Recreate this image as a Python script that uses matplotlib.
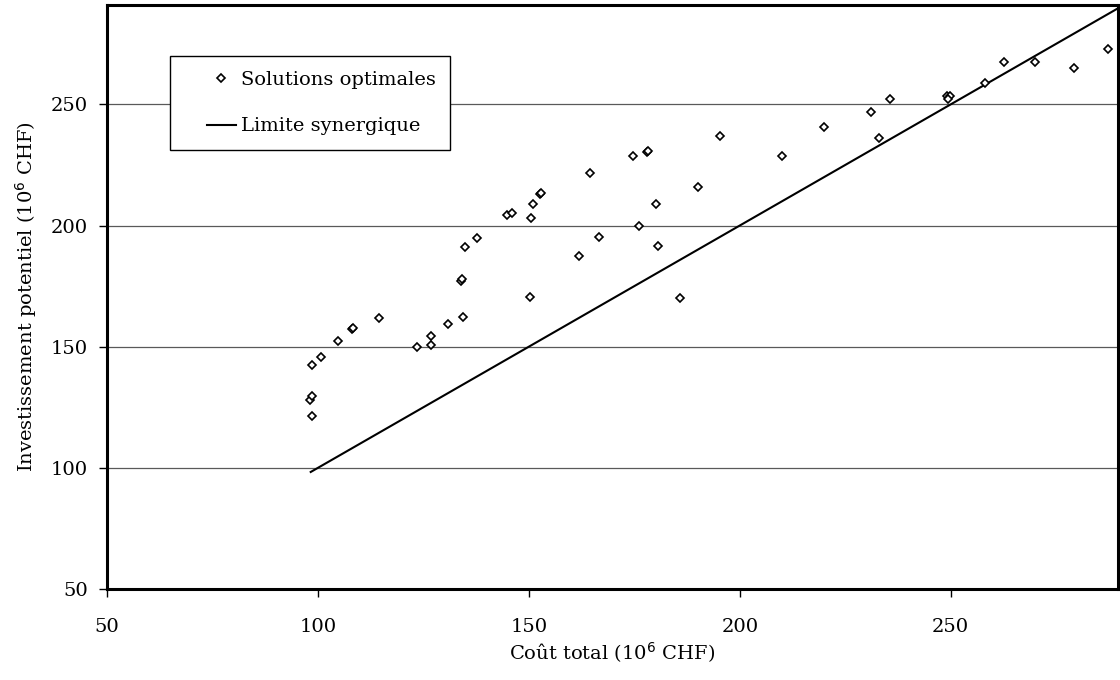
import matplotlib
matplotlib.use("Agg")
import matplotlib.pyplot as plt
from matplotlib.legend_handler import HandlerLine2D

# Solutions optimales (coût total, investissement potentiel), 10^6 CHF
cout = [98.6, 98.1, 98.7, 98.7, 100.7, 104.8, 108.0, 108.3, 114.4, 123.6,
        126.7, 126.8, 130.8, 134.4, 134.0, 134.2, 134.8, 137.7, 144.9, 146.0,
        150.3, 150.5, 150.9, 152.6, 152.9, 162.0, 164.4, 166.7, 174.7, 176.0,
        178.0, 178.3, 180.2, 180.5, 185.9, 190.2, 195.4, 209.9, 220.0, 231.2,
        232.9, 235.5, 249.1, 249.8, 249.3, 258.1, 262.6, 270.0, 279.2, 287.2]
invest = [121.5, 127.8, 129.6, 142.4, 145.6, 152.5, 157.2, 157.6, 162.0, 150.0,
          150.7, 154.4, 159.4, 162.4, 177.0, 178.0, 191.2, 195.0, 204.5, 205.1,
          170.5, 203.0, 208.8, 213.0, 213.4, 187.3, 221.6, 195.2, 228.5, 199.7,
          230.5, 230.9, 208.7, 191.7, 170.1, 216.0, 236.9, 228.7, 240.7, 246.7,
          236.1, 252.1, 253.4, 253.4, 252.3, 258.8, 267.4, 267.4, 264.9, 272.7]

# Limite synergique
limite_x = [98.3, 292]
limite_y = [98.3, 292]

ticks = [50, 100, 150, 200, 250]

plt.rcParams["font.family"] = ["DejaVu Serif"]
fs = 14

fig = plt.figure(figsize=(11.2, 6.8), dpi=100)
ax = fig.add_axes([0.0955, 0.1338, 0.9025, 0.8588])

pts, = ax.plot(cout, invest, linestyle="none", marker="D", markersize=4.5,
               markerfacecolor="white", markeredgecolor="black",
               markeredgewidth=1.2, label="Solutions optimales", zorder=3)
lim, = ax.plot(limite_x, limite_y, color="black", linewidth=1.5,
               label="Limite synergique", zorder=2)

ax.set_xlim(50, 289.6)
ax.set_ylim(50, 291)
ax.set_xticks(ticks)
ax.set_yticks(ticks)
ax.yaxis.grid(True, color="0.35", linewidth=0.9)
ax.set_axisbelow(True)

for s in ax.spines.values():
    s.set_linewidth(2.2)
ax.tick_params(direction="out", length=6, width=1, labelsize=fs, pad=7.5)
ax.tick_params(axis="x", pad=15)

ax.set_xlabel("Coût total (10$^6$ CHF)", fontsize=fs, labelpad=3)
ax.set_ylabel("Investissement potentiel (10$^6$ CHF)", fontsize=fs, labelpad=9)

hm = {pts: HandlerLine2D(xpad=1.2, numpoints=1),
      lim: HandlerLine2D(xpad=1.2, numpoints=1)}
leg = ax.legend(handles=[pts, lim], handler_map=hm, loc="upper left",
                bbox_to_anchor=(0.062, 0.912), fontsize=fs, numpoints=1,
                frameon=True, fancybox=False, framealpha=1, edgecolor="black",
                handlelength=2.65, handletextpad=0.26, labelspacing=1.47,
                borderpad=0.74, borderaxespad=0)
leg.get_frame().set_linewidth(1.0)

fig.savefig("out.png", dpi=100)
